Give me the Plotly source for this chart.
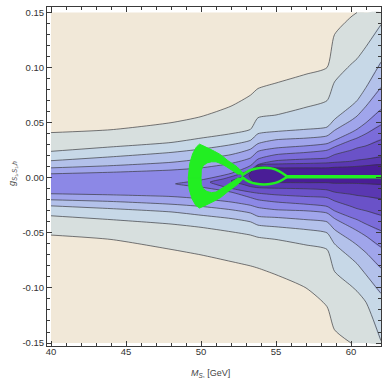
import plotly.graph_objects as go

# ---------------- data ----------------
X = [40, 44, 48, 50, 52, 53.3, 53.8, 55, 57, 58.4, 58.9, 60, 60.4, 61, 62]

U1 = [.041, .0436, .050, .0555, .065, .075, .081, .086, .094, .100, .130, .146, .150, .150, .150]
U2 = [.024, .028, .032, .036, .040, .044, .0545, .057, .064, .070, .087, .103, .108, .119, .139]
U3 = [.0155, .019, .023, .026, .030, .034, .040, .042, .044, .046, .053, .065, .070, .082, .105]
U4 = [.009, .011, .014, .017, .021, .026, .031, .0345, .036, .038, .043, .052, .056, .065, .082]
U5 = [.0036, .005, .007, .009, .013, .018, .024, .027, .029, .031, .034, .041, .044, .050, .062]

L1 = [-.052, -.056, -.065, -.070, -.076, -.080, -.082, -.088, -.100, -.117, -.138, -.150, -.150, -.150, -.150]
L2 = [-.0345, -.038, -.042, -.045, -.049, -.052, -.054, -.056, -.061, -.065, -.085, -.098, -.103, -.113, -.148]
L3 = [-.0255, -.028, -.031, -.034, -.037, -.040, -.043, -.0445, -.047, -.050, -.060, -.073, -.078, -.088, -.105]
L4 = [-.020, -.0215, -.024, -.026, -.029, -.032, -.035, -.036, -.038, -.040, -.047, -.057, -.061, -.068, -.082]
L5 = [-.0145, -.0155, -.017, -.019, -.022, -.025, -.027, -.029, -.030, -.032, -.037, -.045, -.048, -.053, -.063]

X6 = [48.3, 49, 50, 52, 53.3, 53.8, 55, 57, 58.4, 58.9, 60, 60.4, 61, 62]
U6 = [-.0055, -.004, -.002, .004, .011, .017, .021, .023, .025, .028, .034, .036, .040, .048]
L6 = [-.0055, -.007, -.0085, -.013, -.018, -.020, -.022, -.024, -.026, -.030, -.036, -.038, -.042, -.048]

X7 = [50.6, 51.5, 52.5, 53.3, 53.8, 55, 57, 58.4, 58.9, 60, 60.4, 61, 62]
U7 = [-.004, -.001, .003, .007, .012, .0155, .017, .018, .021, .025, .027, .029, .0345]
L7 = [-.004, -.008, -.011, -.013, -.014, -.0155, -.017, -.018, -.021, -.026, -.028, -.030, -.034]

X8 = [52.0, 52.8, 53.3, 53.8, 55, 57, 58.4, 58.9, 60, 60.4, 61, 62]
U8 = [-.003, .001, .005, .0115, .0125, .013, .0135, .014, .015, .016, .017, .019]
L8 = [-.003, -.006, -.008, -.009, -.0095, -.010, -.011, -.013, -.015, -.016, -.017, -.019]

X9 = [53.2, 53.5, 53.9, 54.3, 55, 57, 58.4, 58.9, 60, 61, 62]
U9 = [.002, .008, .0105, .010, .009, .009, .009, .0095, .010, .011, .012]
L9 = [.002, -.004, -.006, -.0055, -.0045, -.0045, -.0045, -.005, -.005, -.0055, -.006]

LEVEL_COLORS = ["#D7DFDE", "#C7D8E7", "#B3C1EA", "#A0A5EB", "#8C88E6",
                "#7B6CDA", "#6A52C8", "#5A38B2", "#4A1D96"]
BG_COLOR = "#F1E8D8"

# green curve
LOOP_TOP_OUT_X = [52.9, 52.4, 51.8, 51.3, 50.9, 50.5, 50.15, 49.9, 49.7, 49.45, 49.25, 49.15]
LOOP_TOP_OUT_Y = [.003, .010, .0155, .021, .024, .027, .029, .0305, .028, .022, .013, .000]
LOOP_TOP_IN_X = [50.0, 50.02, 50.15, 50.4, 50.7, 51.0, 51.4, 51.7, 52.1, 52.5]
LOOP_TOP_IN_Y = [.000, .007, .011, .0135, .0145, .0145, .0125, .010, .0065, .003]
LOOP_BOT_OUT_X = [52.9, 52.4, 51.8, 51.3, 50.9, 50.5, 50.15, 49.9, 49.65, 49.4, 49.2, 49.15]
LOOP_BOT_OUT_Y = [.000, -.0064, -.0125, -.018, -.021, -.024, -.026, -.0275, -.025, -.019, -.010, .000]
LOOP_BOT_IN_X = [50.0, 50.02, 50.15, 50.4, 50.7, 51.0, 51.4, 51.7, 52.1, 52.5]
LOOP_BOT_IN_Y = [.000, -.006, -.010, -.0125, -.0135, -.013, -.010, -.007, -.0035, .000]
LENS_X = [52.7, 53.2, 53.7, 54.2, 54.7, 55.2, 55.7]
LENS_UP_Y = [.002, .0065, .0085, .009, .0085, .006, .0015]
LENS_LO_Y = [.001, -.0035, -.0055, -.006, -.0055, -.0035, .0005]
TAIL_X = [55.6, 62]
TAIL_Y = [.001, .001]
GREEN = "#22EE22"

XTICKS = [40, 45, 50, 55, 60]
YTICKS = [-0.15, -0.10, -0.05, 0.00, 0.05, 0.10, 0.15]
X_TITLE = "<i>M</i><sub><i>S</i>₁</sub> [GeV]"
Y_TITLE = "<i>g</i><sub><i>S</i>₁<i>,S</i>₁<i>,h</i></sub>"

# ---------------- figure ----------------
fig = go.Figure()

levels = [
    (X, U1, L1), (X, U2, L2), (X, U3, L3), (X, U4, L4), (X, U5, L5),
    (X6, U6, L6), (X7, U7, L7), (X8, U8, L8), (X9, U9, L9),
]
YMAX = YTICKS[-1]
SM = 0.6
LINE_C = "rgba(55,55,60,0.75)"


def until_edge(xs, ys):
    """keep the contour line only up to where it meets the plot edge"""
    out_x, out_y = [], []
    for a, b in zip(xs, ys):
        out_x.append(a)
        out_y.append(b)
        if abs(b) >= YMAX - 1e-9:
            break
    return out_x, out_y


for (xs, up, lo), col in zip(levels, LEVEL_COLORS):
    fig.add_trace(go.Scatter(x=list(xs) + list(xs[::-1]), y=list(up) + list(lo[::-1]),
                             fill="toself", fillcolor=col, mode="lines",
                             line=dict(width=0, shape="spline", smoothing=SM),
                             hoverinfo="skip", showlegend=False))
for xs, up, lo in levels:
    if xs[0] > X[0]:
        fig.add_trace(go.Scatter(x=list(xs[::-1]) + list(xs[1:]), y=list(up[::-1]) + list(lo[1:]),
                                 mode="lines", line=dict(color=LINE_C, width=0.9, shape="spline", smoothing=SM),
                                 hoverinfo="skip", showlegend=False))
    else:
        for ys in (up, lo):
            lx, ly = until_edge(xs, ys)
            fig.add_trace(go.Scatter(x=lx, y=ly, mode="lines",
                                     line=dict(color=LINE_C, width=0.9, shape="spline", smoothing=SM),
                                     hoverinfo="skip", showlegend=False))

# green loop (two half-rings)
for ox, oy, ix, iy in [(LOOP_TOP_OUT_X, LOOP_TOP_OUT_Y, LOOP_TOP_IN_X, LOOP_TOP_IN_Y),
                       (LOOP_BOT_OUT_X, LOOP_BOT_OUT_Y, LOOP_BOT_IN_X, LOOP_BOT_IN_Y)]:
    fig.add_trace(go.Scatter(x=list(ox) + list(ix), y=list(oy) + list(iy),
                             fill="toself", fillcolor=GREEN, mode="lines",
                             line=dict(color=GREEN, width=1),
                             hoverinfo="skip", showlegend=False))
for ys in (LENS_UP_Y, LENS_LO_Y):
    fig.add_trace(go.Scatter(x=LENS_X, y=ys, mode="lines",
                             line=dict(color=GREEN, width=2.5, shape="spline"),
                             hoverinfo="skip", showlegend=False))
fig.add_trace(go.Scatter(x=TAIL_X, y=TAIL_Y, mode="lines", line=dict(color=GREEN, width=3.5),
                         hoverinfo="skip", showlegend=False))

fig.add_shape(type="rect", xref="x", yref="y", x0=X[0], x1=X[-1], y0=YTICKS[0], y1=YTICKS[-1],
              fillcolor=BG_COLOR, line=dict(width=0), layer="below")

AX_C = "#3a3a3a"
FAM = "Liberation Sans, Arial, sans-serif"
FONT = dict(family=FAM, size=9.5, color="#333333")
common = dict(showline=True, linecolor=AX_C, linewidth=1, mirror="ticks", ticks="inside",
              ticklen=5, tickwidth=1, tickcolor=AX_C, showgrid=False, zeroline=False,
              tickfont=FONT, automargin=False)

fig.update_xaxes(range=[39.733, 62.0], tickvals=XTICKS, ticktext=[str(v) for v in XTICKS],
                 minor=dict(ticks="inside", ticklen=3, dtick=1, tick0=40, tickcolor=AX_C, showgrid=False),
                 ticklabelstandoff=-3, **common)
fig.update_yaxes(range=[-0.1527, 0.155], tickvals=YTICKS, ticktext=[f"{v:.2f}" for v in YTICKS],
                 minor=dict(ticks="inside", ticklen=3, dtick=0.01, tick0=0, tickcolor=AX_C, showgrid=False),
                 **common)

fig.add_annotation(text=X_TITLE, xref="paper", yref="paper", x=0.49, y=-0.08,
                   xanchor="center", yanchor="middle", showarrow=False,
                   font=dict(family=FAM, size=9, color="#444"))
fig.add_annotation(text=Y_TITLE, xref="paper", yref="paper", x=-0.105, y=0.51,
                   xanchor="center", yanchor="middle", showarrow=False, textangle=-90,
                   font=dict(family=FAM, size=9, color="#444"))

fig.update_layout(width=388, height=378, margin=dict(l=47, r=7, t=7, b=32),
                  plot_bgcolor="white", paper_bgcolor="white", showlegend=False)

fig.write_html("out.html", config={"displayModeBar": False},
               post_script="document.body.style.margin='0';document.body.style.overflow='hidden';")
